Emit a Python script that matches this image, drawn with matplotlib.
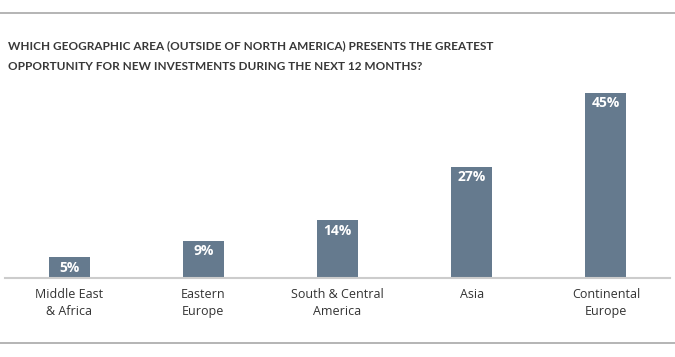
import matplotlib
matplotlib.use("Agg")
import matplotlib.pyplot as plt
from matplotlib.lines import Line2D

# survey data
regions = ["Middle East\n& Africa", "Eastern\nEurope", "South & Central\nAmerica", "Asia", "Continental\nEurope"]
shares = [5, 9, 14, 27, 45]

bar_color = "#657a8e"
text_color = "#333333"

fig = plt.figure(figsize=(6.75, 3.57), dpi=100)
ax = fig.add_axes([5 / 675, 79 / 357, 665 / 675, 198 / 357])

x = list(range(len(regions)))
ax.bar(x, shares, width=0.305, color=bar_color, zorder=2)
for xi, v in zip(x, shares):
    ax.text(xi, v - 0.8, f"{v}%", ha="center", va="top", color="white",
            fontsize=10, fontweight="bold", family="Open Sans")

ax.set_xlim(-0.477, 4.477)
ax.set_ylim(0, 48.2)
ax.set_xticks(x)
ax.set_xticklabels(regions, fontsize=9, color=text_color, family="Open Sans", linespacing=1.45)
ax.tick_params(axis="x", length=0, pad=7)
ax.set_yticks([])
for s in ["top", "right", "left"]:
    ax.spines[s].set_visible(False)
ax.spines["bottom"].set_color("#cccccc")
ax.spines["bottom"].set_linewidth(1.5)

# title
fig.text(8 / 675, 1 - 56 / 357,
         "WHICH GEOGRAPHIC AREA (OUTSIDE OF NORTH AMERICA) PRESENTS THE GREATEST\n"
         "OPPORTUNITY FOR NEW INVESTMENTS DURING THE NEXT 12 MONTHS?",
         ha="left", va="center", fontsize=8.5, fontweight="bold", color="#383838",
         family="Lato", linespacing=2.1)

# separator lines top and bottom
fig.add_artist(Line2D([0, 1], [1 - 13 / 357, 1 - 13 / 357], color="#a8a8a8", lw=1.2))
fig.add_artist(Line2D([0, 1], [1 - 343 / 357, 1 - 343 / 357], color="#a8a8a8", lw=1.2))

fig.savefig("out.png", dpi=100, facecolor="white")
